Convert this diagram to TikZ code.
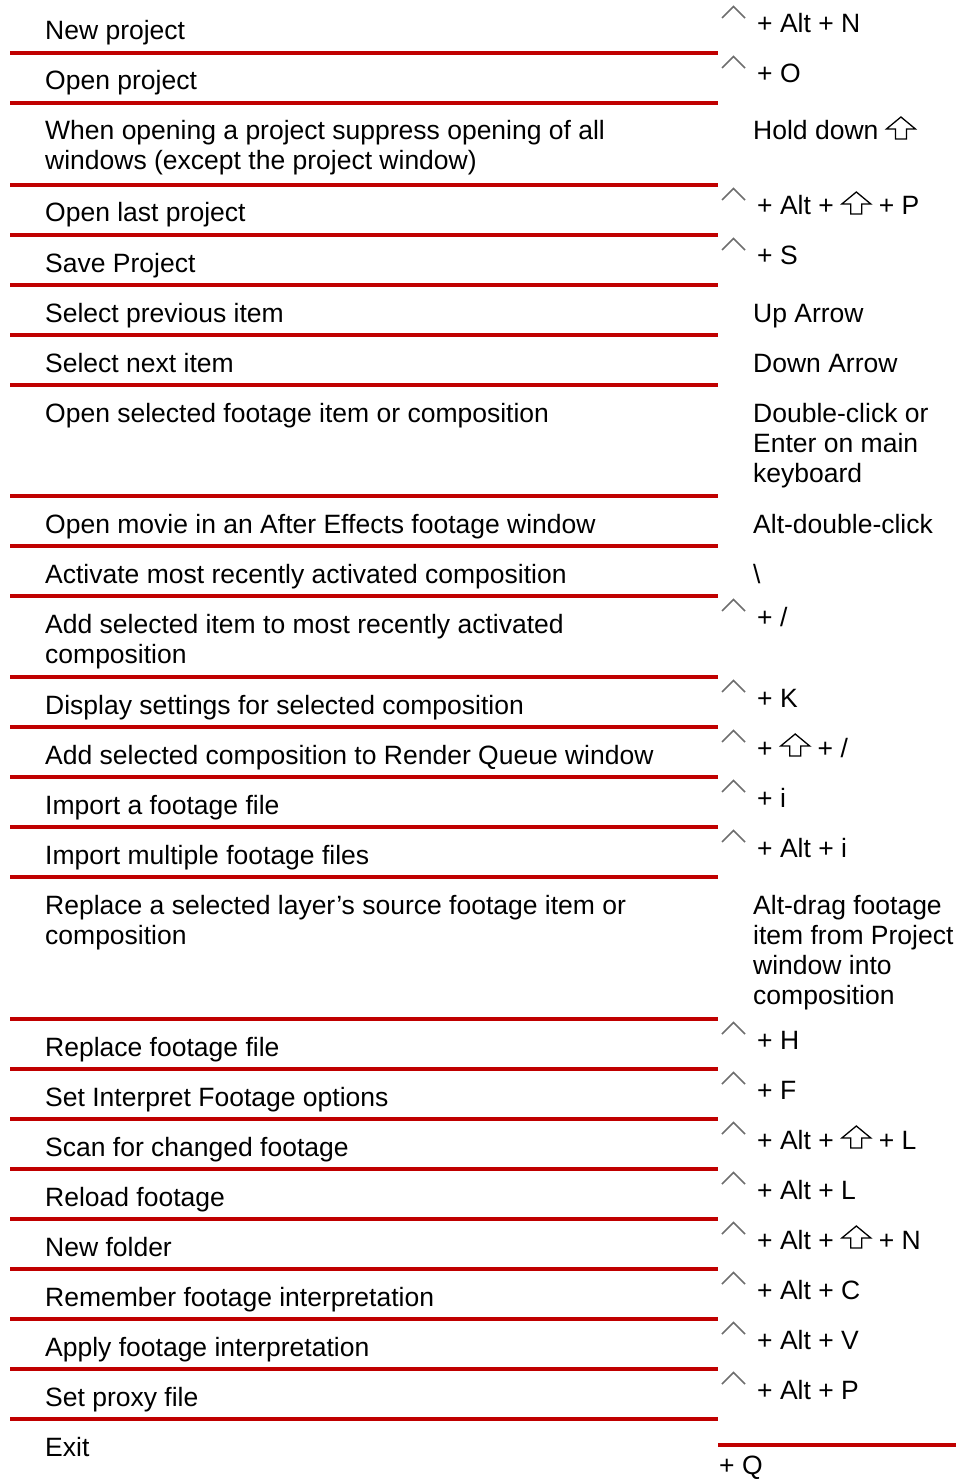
\documentclass[tikz,border=0pt]{standalone}
\usepackage{fontspec}
\setmainfont{Liberation Sans}
\definecolor{RuleRed}{RGB}{192, 0, 0}
\definecolor{CaretGray}{RGB}{110, 110, 110}
\newcommand{\shiftkey}{\tikz[x=1pt, y=1pt, baseline=0pt, line width=1.3pt]
  \draw (10,1) -- (21,1) -- (21,11) -- (30,11) -- (15.5,23) -- (1,11) -- (10,11) -- cycle;}

\begin{document}
\begin{tikzpicture}[x=1pt, y=-1pt,
    txt/.style={anchor=base west, inner sep=0pt, align=left, font=\fontsize{26.5}{30}\selectfont},
    rule/.style={RuleRed, line width=3.5pt},
    caret/.style={CaretGray, line width=1.6pt}]
    \useasboundingbox (0,0) rectangle (956,1479);

    % Rules
    \foreach \y in {53,103,185,235,285,335,385,496,546,596,677,727,777,827,877,1019,1069,1119,1169,1219,1269,1319,1369,1419}
      \draw[rule] (10,\y) -- (718,\y);
    \draw[rule] (718,1445) -- (956,1445);

    % Ctrl marks
    \foreach \b in {33,83,215,265,626,707,757,807,857,1049,1099,1149,1199,1249,1299,1349,1399}
      \draw[caret] (722,\b-15) -- (733.5,\b-26.5) -- (745,\b-15);

    % Actions (multi-line ones sit on their last baseline)
    \node[txt] (act01) at (45,40) {New project};
    \node[txt] (act02) at (45,90) {Open project};
    \node[txt] (act03) at (45,170) {When opening a project suppress opening of all\\windows (except the project window)};
    \node[txt] (act04) at (45,222) {Open last project};
    \node[txt] (act05) at (45,272) {Save Project};
    \node[txt] (act06) at (45,322) {Select previous item};
    \node[txt] (act07) at (45,372) {Select next item};
    \node[txt] (act08) at (45,422) {Open selected footage item or composition};
    \node[txt] (act09) at (45,533) {Open movie in an After Effects footage window};
    \node[txt] (act10) at (45,583) {Activate most recently activated composition};
    \node[txt] (act11) at (45,663) {Add selected item to most recently activated\\composition};
    \node[txt] (act12) at (45,714) {Display settings for selected composition};
    \node[txt] (act13) at (45,764) {Add selected composition to Render Queue window};
    \node[txt] (act14) at (45,814) {Import a footage file};
    \node[txt] (act15) at (45,864) {Import multiple footage files};
    \node[txt] (act16) at (45,944) {Replace a selected layer’s source footage item or\\composition};
    \node[txt] (act17) at (45,1056) {Replace footage file};
    \node[txt] (act18) at (45,1106) {Set Interpret Footage options};
    \node[txt] (act19) at (45,1156) {Scan for changed footage};
    \node[txt] (act20) at (45,1206) {Reload footage};
    \node[txt] (act21) at (45,1256) {New folder};
    \node[txt] (act22) at (45,1306) {Remember footage interpretation};
    \node[txt] (act23) at (45,1356) {Apply footage interpretation};
    \node[txt] (act24) at (45,1406) {Set proxy file};
    \node[txt] (act25) at (45,1456) {Exit};

    % Keys
    \node[txt] (key01) at (757,33) {+ Alt + N};
    \node[txt] (key02) at (757,83) {+ O};
    \node[txt] (key03) at (753,140) {Hold down \shiftkey};
    \node[txt] (key04) at (757,215) {+ Alt + \shiftkey{} + P};
    \node[txt] (key05) at (757,265) {+ S};
    \node[txt] (key06) at (753,322) {Up Arrow};
    \node[txt] (key07) at (753,372) {Down Arrow};
    \node[txt] (key08) at (753,482) {Double-click or\\Enter on main\\keyboard};
    \node[txt] (key09) at (753,533) {Alt-double-click};
    \node[txt] (key10) at (753,583) {\textbackslash};
    \node[txt] (key11) at (757,626) {+ /};
    \node[txt] (key12) at (757,707) {+ K};
    \node[txt] (key13) at (757,757) {+ \shiftkey{} + /};
    \node[txt] (key14) at (757,807) {+ i};
    \node[txt] (key15) at (757,857) {+ Alt + i};
    \node[txt] (key16) at (753,1004) {Alt-drag footage\\item from Project\\window into\\composition};
    \node[txt] (key17) at (757,1049) {+ H};
    \node[txt] (key18) at (757,1099) {+ F};
    \node[txt] (key19) at (757,1149) {+ Alt + \shiftkey{} + L};
    \node[txt] (key20) at (757,1199) {+ Alt + L};
    \node[txt] (key21) at (757,1249) {+ Alt + \shiftkey{} + N};
    \node[txt] (key22) at (757,1299) {+ Alt + C};
    \node[txt] (key23) at (757,1349) {+ Alt + V};
    \node[txt] (key24) at (757,1399) {+ Alt + P};
    \node[txt] (key25) at (719,1474) {+ Q};
\end{tikzpicture}
\end{document}
